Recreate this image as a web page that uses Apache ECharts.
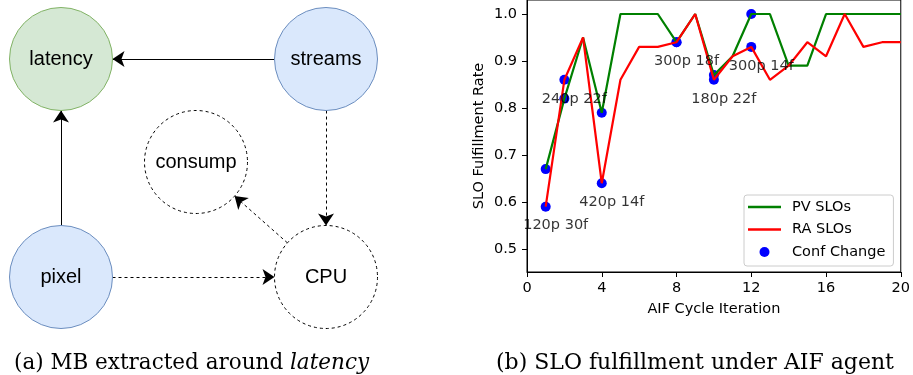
<!DOCTYPE html>
<html><head><meta charset="utf-8">
<script src="https://cdn.jsdelivr.net/npm/echarts@6/dist/echarts.min.js"></script>
<style>html,body{margin:0;padding:0;background:#fff}#c{width:913px;height:375px}</style>
</head><body><div id="c"></div>
<script>
// ---- line chart data (panel b) ----
const iterations = [1,2,3,4,5,6,7,8,9,10,11,12,13,14,15,16,17,18,19,20];
const pvSLOs = [0.67,0.82,0.95,0.79,1.00,1.00,1.00,0.94,1.00,0.87,0.91,1.00,1.00,0.89,0.89,1.00,1.00,1.00,1.00,1.00];
const raSLOs = [0.59,0.86,0.95,0.64,0.86,0.93,0.93,0.94,1.00,0.86,0.91,0.93,0.86,0.89,0.94,0.91,1.00,0.93,0.94,0.94];
const confIters = [1,2,4,8,10,12];
const confLabels = ['120p 30f','240p 22f','420p 14f','300p 18f','180p 22f','300p 14f'];
const xTicks = [0,4,8,12,16,20];
const yTicks = [0.5,0.6,0.7,0.8,0.9,1.0];
const seriesNames = ['PV SLOs','RA SLOs','Conf Change'];

// ---- diagram data (panel a) ----
const nodeNames = ['latency','streams','consump','pixel','CPU'];
const nodeKinds = ['target','observed','latent','observed','latent'];
const nodeX = [61,326,196,61,326];
const nodeY = [59,59,162,277,277];
const edgeFrom = ['streams','pixel','streams','pixel','CPU'];
const edgeTo = ['latency','latency','CPU','CPU','consump'];
const edgeKinds = ['direct','direct','indirect','indirect','indirect'];

const captions = ['(a) MB extracted around {it|latency}', '(b) SLO fulfillment under AIF agent'];

const kindStyle = {
  target: {color:'#d5e8d4', borderColor:'#82b366', borderWidth:1, borderType:'solid'},
  observed: {color:'#dae8fc', borderColor:'#6c8ebf', borderWidth:1, borderType:'solid'},
  latent: {color:'#ffffff', borderColor:'#000000', borderWidth:1, borderType:[3,3]}
};
const edgeStyle = {direct:{type:'solid'}, indirect:{type:[3,3]}};

const FONT = 'DejaVu Sans';
const FS = 14.5;
const LINE_ICON = 'path://M0,0h33v2.4h-33z';

const chart = echarts.init(document.getElementById('c'), null, {renderer:'canvas'});

const confPoints = [];
confIters.forEach(it => {
  confPoints.push([it, pvSLOs[it-1]]);
  confPoints.push([it, raSLOs[it-1]]);
});

const option = {
  animation: false,
  backgroundColor: '#fff',
  title: [
    {text: captions[0], left: 9, top: 347,
     textStyle:{fontFamily:'DejaVu Serif', fontSize:21.5, fontWeight:'normal', color:'#000',
       rich:{it:{fontFamily:'DejaVu Serif', fontStyle:'italic', fontSize:21.5, color:'#000'}}}},
    {text: captions[1], left: 491, top: 347,
     textStyle:{fontFamily:'DejaVu Serif', fontSize:22, fontWeight:'normal', color:'#000'}}
  ],
  legend: {
    data: [
      {name: seriesNames[0], icon: LINE_ICON},
      {name: seriesNames[1], icon: LINE_ICON},
      {name: seriesNames[2], icon: 'circle'}
    ],
    orient: 'vertical',
    left: 744, top: 195,
    itemWidth: 33, itemHeight: 10, itemGap: 7.5,
    padding: [4.5, 8, 6.5, 4],
    backgroundColor: 'rgba(255,255,255,0.8)',
    borderColor: '#cccccc', borderWidth: 1, borderRadius: 3,
    textStyle: {fontFamily: FONT, fontSize: FS, color:'#000', padding:[0,0,0,6]},
    selectedMode: false
  },
  grid: [
    {left: 527, top: 0, width: 374, height: 272, show: true, borderColor:'#000', borderWidth:1, backgroundColor:'transparent'},
    {left: 0, top: 0, width: 913, height: 375, show: false}
  ],
  xAxis: [
    {type:'value', gridIndex:0, min:0, max:20, interval:4,
     name:'AIF Cycle Iteration', nameLocation:'middle', nameGap:30,
     nameTextStyle:{fontFamily:FONT, fontSize:FS, color:'#000'},
     axisLine:{show:true, lineStyle:{color:'#000', width:1}},
     axisTick:{show:true, length:5, inside:false, lineStyle:{color:'#000'}},
     axisLabel:{fontFamily:FONT, fontSize:FS, color:'#000', margin:9, customValues: xTicks},
     splitLine:{show:false}},
    {type:'value', gridIndex:1, min:0, max:913, show:false}
  ],
  yAxis: [
    {type:'value', gridIndex:0, min:0.4511, max:1.0298,
     name:'SLO Fulfillment Rate', nameLocation:'middle', nameGap:40,
     nameTextStyle:{fontFamily:FONT, fontSize:FS, color:'#000'},
     axisLine:{show:true, lineStyle:{color:'#000', width:1}},
     axisTick:{show:true, length:5, inside:false, lineStyle:{color:'#000'}, customValues: yTicks},
     axisLabel:{fontFamily:FONT, fontSize:FS, color:'#000', margin:10, customValues: yTicks,
       formatter: v => v.toFixed(1)},
     splitLine:{show:false}},
    {type:'value', gridIndex:1, min:0, max:375, inverse:true, show:false}
  ],
  series: [
    {name:'Conf Change', type:'scatter', xAxisIndex:0, yAxisIndex:0, z:1,
     symbol:'circle', symbolSize:10, itemStyle:{color:'#0000ff', opacity:1},
     data: confPoints, silent:true},
    {name:'PV SLOs', type:'line', xAxisIndex:0, yAxisIndex:0, z:2,
     symbol:'none', lineStyle:{color:'#008000', width:2.2}, itemStyle:{color:'#008000'},
     data: iterations.map((x,i)=>[x, pvSLOs[i]]), silent:true},
    {name:'RA SLOs', type:'line', xAxisIndex:0, yAxisIndex:0, z:3,
     symbol:'none', lineStyle:{color:'#ff0000', width:2.2}, itemStyle:{color:'#ff0000'},
     data: iterations.map((x,i)=>[x, raSLOs[i]]), silent:true},
    {name:'annotations', type:'scatter', xAxisIndex:0, yAxisIndex:0, z:4,
     symbolSize:1, itemStyle:{color:'rgba(0,0,0,0)'},
     label:{show:true, position:'inside', offset:[10,19], fontFamily:FONT, fontSize:FS, color:'#000',
       formatter: p => confLabels[p.dataIndex]},
     data: confIters.map(it => [it, raSLOs[it-1]]), silent:true},
    {type:'graph', coordinateSystem:'cartesian2d', xAxisIndex:1, yAxisIndex:1, z:5,
     symbol:'circle', symbolSize:103,
     edgeSymbol:['circle','arrow'], edgeSymbolSize:[0.01, 12],
     label:{show:true, position:'inside', fontFamily:'Liberation Sans', fontSize:20, color:'#000'},
     lineStyle:{color:'#000', width:1, opacity:1, curveness:0},
     emphasis:{disabled:true}, silent:true,
     data: nodeNames.map((n,i)=>({name:n, value:[nodeX[i], nodeY[i]], itemStyle: kindStyle[nodeKinds[i]]})),
     links: edgeFrom.map((s,i)=>({source:s, target:edgeTo[i], lineStyle: edgeStyle[edgeKinds[i]]}))}
  ]
};
chart.setOption(option);
</script>
</body></html>
